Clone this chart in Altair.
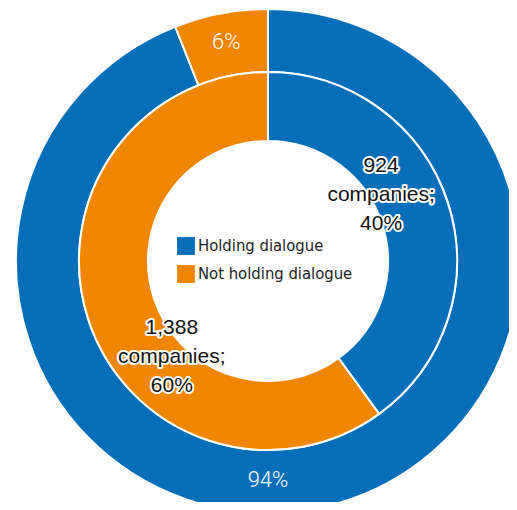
import altair as alt
import pandas as pd

categories = ["Holding dialogue", "Not holding dialogue"]
colors = ["#046fb8", "#f08500"]

inner_counts = [924, 1388]
inner_pct = [40, 60]
outer_pct = [94, 6]

inner = pd.DataFrame({
    "status": categories,
    "pct": inner_pct,
    "order": [0, 1],
    "label": [f"{c:,}\ncompanies;\n{p}%" for c, p in zip(inner_counts, inner_pct)],
})
outer = pd.DataFrame({
    "status": categories,
    "pct": outer_pct,
    "order": [0, 1],
    "label": [f"{p}%" for p in outer_pct],
})

cx = alt.value(260)
cy = alt.value(253)
color = alt.Color("status:N", scale=alt.Scale(domain=categories, range=colors),
                  legend=alt.Legend(title=None, orient="none", legendX=169, legendY=229,
                                    symbolType="square", symbolSize=320, symbolStrokeWidth=0,
                                    symbolOpacity=1, labelLimit=400,
                                    labelFont="DejaVu Sans Condensed, Liberation Sans, sans-serif",
                                    labelFontSize=16.5,
                                    labelColor="#222222", rowPadding=10, labelOffset=3))

theta = alt.Theta("pct:Q", stack=True)
order = alt.Order("order:Q")

outer_arc = alt.Chart(outer).mark_arc(innerRadius=189, outerRadius=252, stroke="white",
                                      strokeWidth=2).encode(
    theta=theta, color=color, order=order, x=cx, y=cy)
inner_arc = alt.Chart(inner).mark_arc(innerRadius=120, outerRadius=189, stroke="white",
                                      strokeWidth=2).encode(
    theta=theta, color=color, order=order, x=cx, y=cy)

lab6 = alt.Chart(outer).mark_text(
    radius=223, font="Roboto", fontWeight=300, fontSize=22,
    color="white", baseline="middle", align="center").encode(
    theta=theta, order=order, text="label:N", x=cx, y=cy,
    opacity=alt.condition(alt.datum.order == 1, alt.value(1), alt.value(0)))
lab94 = alt.Chart(outer).mark_text(
    radius=219, thetaOffset=0.1885, font="Roboto", fontWeight=300, fontSize=22,
    color="white", baseline="middle", align="center").encode(
    theta=theta, order=order, text="label:N", x=cx, y=cy,
    opacity=alt.condition(alt.datum.order == 0, alt.value(1), alt.value(0)))

def itext(idx, r, off):
    layers = []
    for halo in (True, False):
        kw = dict(stroke="white", strokeWidth=4, strokeJoin="round") if halo else {}
        layers.append(alt.Chart(inner).mark_text(
            radius=r, thetaOffset=off, font="Liberation Sans", fontSize=21,
            lineBreak="\n", lineHeight=29, dy=-29, color="#111111", baseline="middle",
            align="center", **kw).encode(
            theta=theta, order=order, text="label:N", x=cx, y=cy,
            opacity=alt.condition(alt.datum.order == idx, alt.value(1), alt.value(0))))
    return layers

labs_blue = itext(0, 131, -0.2147)
labs_orange = itext(1, 136, -0.471)

chart = alt.layer(outer_arc, inner_arc, lab6, lab94, *labs_blue, *labs_orange).properties(
    width=501, height=494, padding=0,
    autosize=alt.AutoSizeParams(type="none"),
).configure_view(stroke=None)

chart.save("out.html", embed_options={"renderer": "svg", "actions": False})
